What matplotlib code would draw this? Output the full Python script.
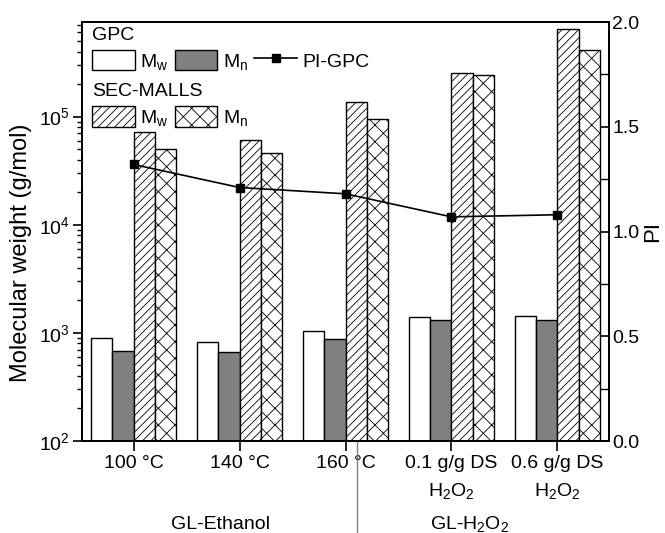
import matplotlib
matplotlib.use('Agg')
import matplotlib.pyplot as plt
import numpy as np
from matplotlib.patches import Patch
from matplotlib.lines import Line2D
import matplotlib.transforms as mtransforms
from matplotlib.ticker import MultipleLocator, LogLocator

plt.rcParams['font.family'] = ['Liberation Sans', 'DejaVu Sans']
plt.rcParams['mathtext.fontset'] = 'custom'
plt.rcParams['mathtext.rm'] = 'Liberation Sans'
plt.rcParams['mathtext.it'] = 'Liberation Sans:italic'
plt.rcParams['mathtext.bf'] = 'Liberation Sans:bold'
plt.rcParams['mathtext.default'] = 'regular'
plt.rcParams['hatch.linewidth'] = 0.6

# ---- data ----
categories = ['100 °C', '140 °C', '160 °C',
              '0.1 g/g DS\nH$_2$O$_2$', '0.6 g/g DS\nH$_2$O$_2$']
gpc_mw = [890, 815, 1030, 1400, 1430]
gpc_mn = [680, 670, 875, 1310, 1310]
sec_mw = [72000, 61000, 136000, 252000, 647000]
sec_mn = [50000, 46000, 95000, 243000, 414000]
pi_gpc = [1.32, 1.21, 1.18, 1.07, 1.08]
group_labels = ['GL-Ethanol', 'GL-H$_2$O$_2$']

FS = 14

fig = plt.figure(figsize=(6.65, 5.33), dpi=100)
ax = fig.add_axes([0.1229, 0.1726, 0.7933, 0.7861])
x = np.arange(len(categories))
w = 0.2

ax.set_yscale('log')
ax.bar(x - 1.5 * w, gpc_mw, w, color='white', edgecolor='black', linewidth=1)
ax.bar(x - 0.5 * w, gpc_mn, w, color='#808080', edgecolor='black', linewidth=1)
ax.bar(x + 0.5 * w, sec_mw, w, color='white', edgecolor='black', linewidth=1, hatch='////')
ax.bar(x + 1.5 * w, sec_mn, w, color='white', edgecolor='black', linewidth=1, hatch='xx')

ax.set_ylim(100, 7.5e5)
ax.set_xlim(-0.49, 4.49)
ax.set_xticks(x)
ax.set_xticklabels(categories, fontsize=FS, linespacing=1.6)
ax.tick_params(axis='x', direction='out', length=7, width=1.2, pad=3)
ax.tick_params(axis='y', which='major', direction='out', length=6.5, width=1.2, labelsize=FS, pad=2)
ax.tick_params(axis='y', which='minor', direction='out', length=3.5, width=1)
ax.yaxis.set_major_locator(LogLocator(base=10, numticks=10))
ax.yaxis.set_minor_locator(LogLocator(base=10, subs=np.arange(2, 10), numticks=20))
ax.set_ylabel('Molecular weight (g/mol)', fontsize=17)
ax.yaxis.set_label_coords(-0.095, 0.45)
for s in ax.spines.values():
    s.set_linewidth(1.3)

ax2 = ax.twinx()
ax2.plot(x, pi_gpc, color='black', linewidth=1.2, marker='s', markersize=6)
ax2.set_ylim(0, 2.0)
ax2.yaxis.set_major_locator(MultipleLocator(0.5))
ax2.yaxis.set_minor_locator(MultipleLocator(0.25))
ax2.yaxis.set_major_formatter(matplotlib.ticker.FormatStrFormatter('%.1f'))
ax2.tick_params(axis='y', which='major', direction='in', length=6.5, width=1.2, labelsize=FS, pad=2)
ax2.tick_params(axis='y', which='minor', direction='in', length=6.5, width=1)
ax2.set_ylabel('PI', fontsize=16, labelpad=2)
for s in ax2.spines.values():
    s.set_linewidth(1.3)

# legends
h1 = [Patch(facecolor='white', edgecolor='black'),
      Patch(facecolor='#808080', edgecolor='black'),
      Line2D([], [], color='black', linewidth=1.2, marker='s', markersize=6)]
l1 = ['M$_w$', 'M$_n$', 'PI-GPC']
leg1 = ax2.legend(h1, l1, title='GPC', ncol=3, loc='upper left',
                  bbox_to_anchor=(0.01, 1.0), frameon=False, fontsize=FS,
                  title_fontsize=FS, alignment='left', handlelength=2.2,
                  handleheight=1.25, handletextpad=0.3, columnspacing=0.3,
                  borderpad=0.25, borderaxespad=0, labelspacing=0.3)
ax2.add_artist(leg1)
h2 = [Patch(facecolor='white', edgecolor='black', hatch='////'),
      Patch(facecolor='white', edgecolor='black', hatch='xx')]
l2 = ['M$_w$', 'M$_n$']
leg2 = ax2.legend(h2, l2, title='SEC-MALLS', ncol=2, loc='upper left',
                  bbox_to_anchor=(0.01, 0.865), frameon=False, fontsize=FS,
                  title_fontsize=FS, alignment='left', handlelength=2.2,
                  handleheight=1.25, handletextpad=0.3, columnspacing=0.3,
                  borderpad=0.25, borderaxespad=0, labelspacing=0.3)

# group labels and separator
trans = mtransforms.blended_transform_factory(ax.transData, ax.transAxes)
ax.text(0.82, -0.21, group_labels[0], transform=trans, ha='center', va='baseline', fontsize=FS)
ax.text(3.17, -0.21, group_labels[1], transform=trans, ha='center', va='baseline', fontsize=FS)
ax.add_line(Line2D([2.11, 2.11], [0, -0.3], transform=trans, color='#808080',
                   linewidth=1, clip_on=False))

fig.savefig('out.png', dpi=100)
